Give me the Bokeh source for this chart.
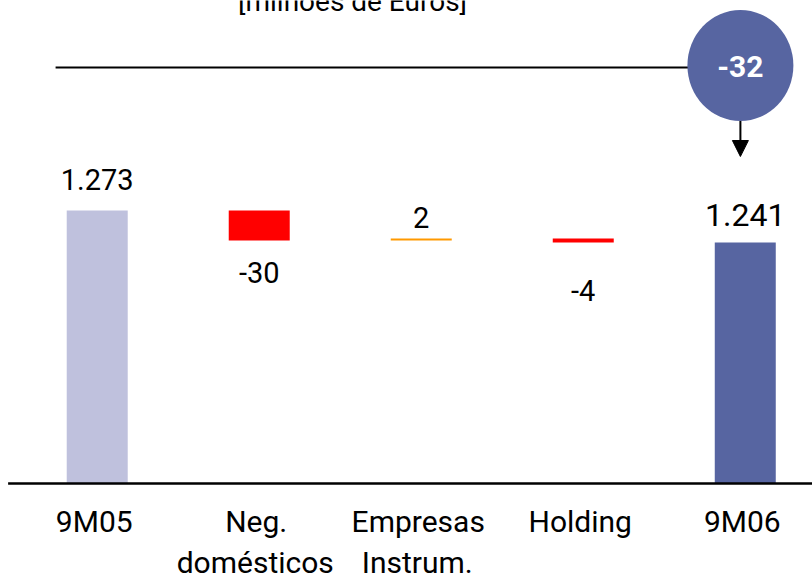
from bokeh.plotting import figure
from bokeh.models import Range1d, Arrow, NormalHead, ColumnDataSource
from bokeh.core.properties import value, field
from bokeh.embed import file_html
from bokeh.resources import INLINE

# --- data -------------------------------------------------------------
cat_line1 = ["9M05", "Neg.", "Empresas", "Holding", "9M06"]
cat_line2 = ["", "domésticos", "Instrum.", "", ""]
start_value = 1273
changes = [-30, 2, -4]
end_value = 1241
total_change = -32
unit_label = "[milhões de Euros]"

# --- waterfall geometry -------------------------------------------------
axis_base = 1000          # value at which the bars are cut
xs = list(range(5))
bottoms, tops, colors = [axis_base], [start_value], ["#BFC1DD"]
running = start_value
for c in changes:
    nxt = running + c
    bottoms.append(min(running, nxt))
    tops.append(max(running, nxt))
    colors.append("#FF9900" if c > 0 else "#FF0000")
    running = nxt
bottoms.append(axis_base)
tops.append(end_value)
colors.append("#5765A1")


def fmt(v):
    s = f"{abs(v):,}".replace(",", ".")
    return ("-" if v < 0 else "") + s


FONT = value("Roboto")
TEXT_SHIFT = -10   # screen-pixel correction for the alphabetic baseline

p = figure(width=812, height=579,
           x_range=Range1d(-0.597, 4.415), y_range=Range1d(904, 1483),
           output_backend="svg", toolbar_location=None, min_border=0,
           x_axis_type=None, y_axis_type=None)
p.outline_line_color = None
p.background_fill_color = "white"
p.border_fill_color = "white"

p.vbar(x=xs, width=0.3765, bottom=bottoms, top=tops,
       fill_color=colors, line_color=None)

# value labels: above rising/total bars, below falling bars
label_text = [fmt(start_value)] + [fmt(c) for c in changes] + [fmt(end_value)]
label_y = [start_value]
label_off = [-21]
running = start_value
for c in changes:
    nxt = running + c
    if c > 0:
        label_y.append(max(running, nxt))
        label_off.append(-11)
    else:
        label_y.append(min(running, nxt))
        label_off.append(42 if c < -10 else 58)
    running = nxt
label_y.append(end_value)
label_off.append(-18)
label_off = [o + TEXT_SHIFT for o in label_off]
sizes = ["29px", "29px", "29px", "29px", "32px"]

src = ColumnDataSource(dict(x=xs, y=label_y, text=label_text,
                            off=label_off, size=sizes))
p.text(x="x", y="y", text="text", y_offset="off", source=src,
       text_align="center", text_baseline="alphabetic",
       text_font=FONT, text_font_size=field("size"), text_color="black")

# baseline of the chart
p.segment(x0=[-0.55], y0=[axis_base], x1=[4.42], y1=[axis_base],
          line_color="black", line_width=2.5)

# category labels (two lines)
p.text(x=xs, y=[axis_base] * 5, text=cat_line1, y_offset=48 + TEXT_SHIFT,
       x_offset=-3, text_align="center", text_baseline="alphabetic",
       text_font=FONT, text_font_size="30px", text_color="black")
p.text(x=xs, y=[axis_base] * 5, text=cat_line2, y_offset=89 + TEXT_SHIFT,
       x_offset=-4, text_align="center", text_baseline="alphabetic",
       text_font=FONT, text_font_size="30px", text_color="black")

# unit label at top
p.text(x=[1.576], y=[1472], text=[unit_label], y_offset=TEXT_SHIFT,
       text_align="center", text_baseline="alphabetic",
       text_font=FONT, text_font_size="28px", text_color="black")

# total-change bubble with reference line and arrow
cx, cy = 3.97, 1418
p.segment(x0=[-0.257], y0=[1416], x1=[cx], y1=[1416],
          line_color="black", line_width=2)
p.ellipse(x=[cx], y=[cy], width=0.654, height=111,
          fill_color="#5765A1", line_color=None)
p.text(x=[cx], y=[cy], text=[fmt(total_change)], y_offset=11 + TEXT_SHIFT,
       text_align="center", text_baseline="alphabetic",
       text_font=FONT, text_font_size="30px", text_font_style="bold",
       text_color="white")
p.add_layout(Arrow(end=NormalHead(size=16, fill_color="black",
                                  line_color="black"),
                   x_start=cx, y_start=cy - 55.5, x_end=cx, y_end=1327,
                   line_color="black", line_width=2))

open("out.html", "w").write(file_html(p, INLINE))
